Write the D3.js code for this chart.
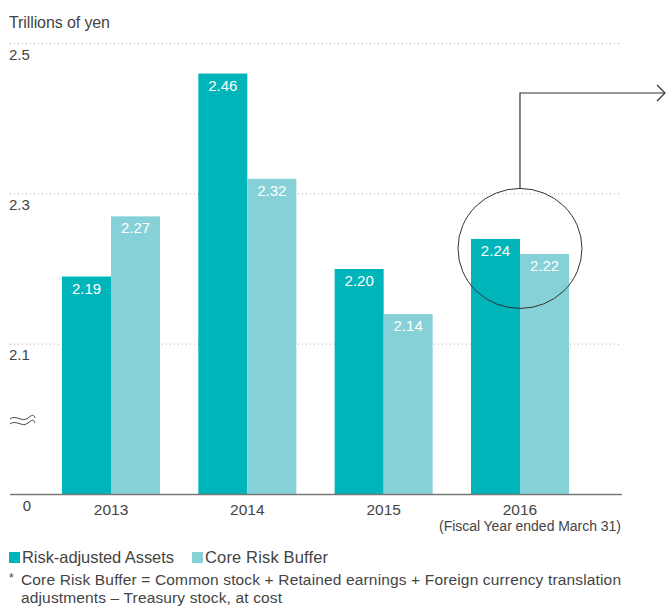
<!DOCTYPE html>
<html>
<head>
<meta charset="utf-8">
<script src="https://cdn.jsdelivr.net/npm/d3@7"></script>
<style>
  body { margin: 0; background: #fff; }
  svg text { font-family: "Liberation Sans", Arial, sans-serif; fill: #444; }
</style>
</head>
<body>
<div id="chart"></div>
<script>
// Data
var years = ["2013", "2014", "2015", "2016"];
var seriesNames = ["Risk-adjusted Assets", "Core Risk Buffer"];
var riskAssets = [2.19, 2.46, 2.20, 2.24];
var coreBuffer = [2.27, 2.32, 2.14, 2.22];
var tickValues = [2.1, 2.3, 2.5];
var colors = ["#00b5b9", "#86d1d7"];

var svgWidth = 666, svgHeight = 607;

var svg = d3.select("#chart")
  .append("svg")
  .attr("width", svgWidth)
  .attr("height", svgHeight);

// scales (axis is broken below 2.1, baseline stands for 0)
var xScale = d3.scaleBand()
  .domain(years)
  .range([62, 569])
  .paddingInner(0.281)
  .paddingOuter(0);

var xSub = d3.scaleBand()
  .domain(seriesNames)
  .range([0, xScale.bandwidth()]);

var yScale = d3.scaleLinear()
  .domain([1.9, 2.5])
  .range([494.5, 43.5]);

// unit label
svg.append("text")
  .attr("x", 9)
  .attr("y", 28)
  .style("font-size", "16px")
  .attr("textLength", 101)
  .text("Trillions of yen");

// dotted gridlines
svg.append("g").selectAll("line")
  .data(tickValues)
  .enter()
  .append("line")
  .attr("x1", 10)
  .attr("x2", 622)
  .attr("y1", d => yScale(d))
  .attr("y2", d => yScale(d))
  .attr("stroke", "#aaa")
  .attr("stroke-width", 1)
  .attr("stroke-dasharray", "1,3");

svg.append("g").selectAll("text")
  .data(tickValues)
  .enter()
  .append("text")
  .attr("x", 9)
  .attr("y", d => yScale(d) + 16)
  .style("font-size", "15px")
  .text(d => d3.format(".1f")(d));

// zero label at the baseline
svg.append("text")
  .attr("x", 27)
  .attr("y", 511)
  .attr("text-anchor", "middle")
  .style("font-size", "15px")
  .text("0");

// axis break mark
var breakGroup = svg.append("g").attr("transform", "translate(10, 417)");
[0, 5].forEach(function(dy) {
  breakGroup.append("path")
    .attr("d", `M0,${dy + 2} C6,${dy - 3} 12,${dy + 6} 18,${dy + 1} S24,${dy - 1} 25,${dy + 1}`)
    .attr("fill", "none")
    .attr("stroke", "#444")
    .attr("stroke-width", 1);
});

// bars
var rows = years.map(function(y, i) {
  return { year: y, values: [
    { name: seriesNames[0], value: riskAssets[i] },
    { name: seriesNames[1], value: coreBuffer[i] }
  ]};
});

var groups = svg.append("g").selectAll("g")
  .data(rows)
  .enter()
  .append("g")
  .attr("transform", d => `translate(${xScale(d.year)}, 0)`);

groups.selectAll("rect")
  .data(d => d.values)
  .enter()
  .append("rect")
  .attr("x", d => xSub(d.name))
  .attr("y", d => yScale(d.value))
  .attr("width", xSub.bandwidth())
  .attr("height", d => yScale(1.9) - yScale(d.value))
  .attr("fill", (d, i) => colors[i]);

groups.selectAll("text.val")
  .data(d => d.values)
  .enter()
  .append("text")
  .attr("class", "val")
  .attr("x", d => xSub(d.name) + xSub.bandwidth() / 2)
  .attr("y", d => yScale(d.value) + 17)
  .attr("text-anchor", "middle")
  .style("font-size", "15px")
  .style("fill", "#fff")
  .text(d => d3.format(".2f")(d.value));

// baseline
svg.append("line")
  .attr("x1", 10)
  .attr("x2", 622)
  .attr("y1", 494.5)
  .attr("y2", 494.5)
  .attr("stroke", "#777")
  .attr("stroke-width", 1.5);

// year labels
svg.append("g").selectAll("text")
  .data(years)
  .enter()
  .append("text")
  .attr("x", d => xScale(d) + xScale.bandwidth() / 2)
  .attr("y", 515)
  .attr("text-anchor", "middle")
  .style("font-size", "15.5px")
  .text(d => d);

svg.append("text")
  .attr("x", 621)
  .attr("y", 531)
  .attr("text-anchor", "end")
  .style("font-size", "14px")
  .attr("textLength", 182)
  .text("(Fiscal Year ended March 31)");

// annotation circle with arrow
var focusYear = "2016";
var cx = xScale(focusYear) + xScale.bandwidth() / 2;
var cy = yScale(2.23) + 2;
svg.append("ellipse")
  .attr("cx", cx)
  .attr("cy", cy)
  .attr("rx", 62)
  .attr("ry", 60)
  .attr("fill", "none")
  .attr("stroke", "#333")
  .attr("stroke-width", 1);

svg.append("path")
  .attr("d", `M${cx},${cy - 60} V93 H665`)
  .attr("fill", "none")
  .attr("stroke", "#333")
  .attr("stroke-width", 1.2);

svg.append("path")
  .attr("d", "M657,85 L665,93 L657,101")
  .attr("fill", "none")
  .attr("stroke", "#333")
  .attr("stroke-width", 1.2);

// legend
var legend = svg.append("g");
var legendX = [9, 192];
var legendW = [152, 123];
seriesNames.forEach(function(name, i) {
  legend.append("rect")
    .attr("x", legendX[i])
    .attr("y", 552)
    .attr("width", 11)
    .attr("height", 11)
    .attr("fill", colors[i]);
  legend.append("text")
    .attr("x", legendX[i] + 13)
    .attr("y", 563)
    .style("font-size", "16.5px")
    .attr("textLength", legendW[i])
    .text(name);
});

// footnote
svg.append("text")
  .attr("x", 9)
  .attr("y", 582)
  .style("font-size", "12px")
  .text("*");
svg.append("text")
  .attr("x", 21)
  .attr("y", 585)
  .style("font-size", "15.5px")
  .attr("textLength", 600)
  .text("Core Risk Buffer = Common stock + Retained earnings + Foreign currency translation");
svg.append("text")
  .attr("x", 21)
  .attr("y", 603)
  .style("font-size", "15.5px")
  .attr("textLength", 261)
  .text("adjustments \u2013 Treasury stock, at cost");
</script>
</body>
</html>
